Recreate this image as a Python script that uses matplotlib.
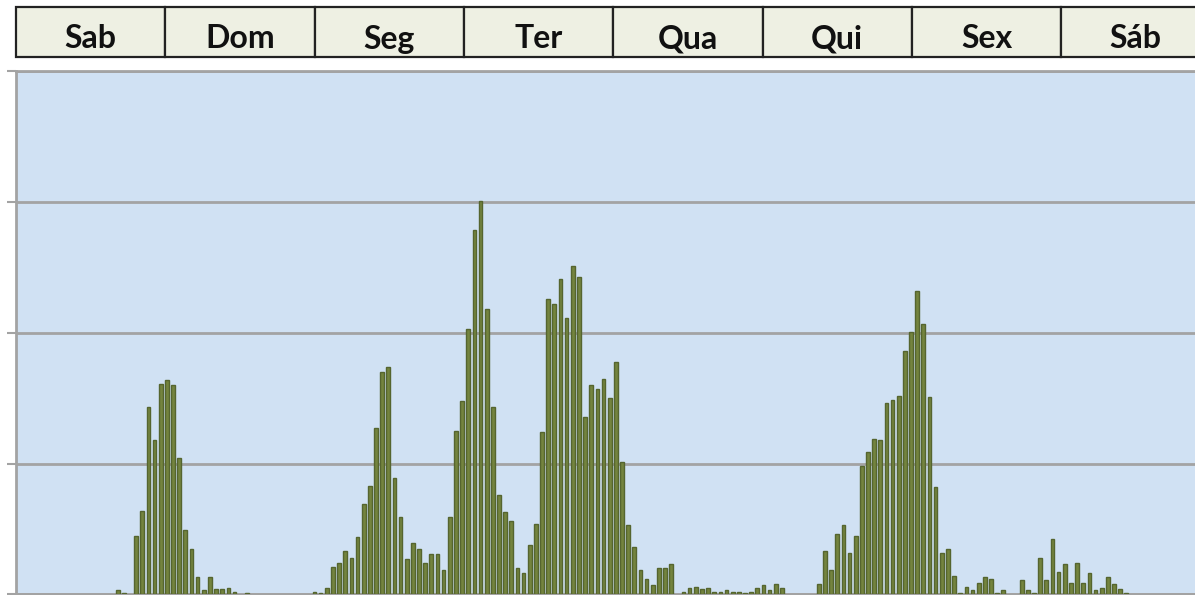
import numpy as np
import matplotlib.pyplot as plt
from matplotlib.patches import Rectangle

# hourly values, one list of 24 per day
days = ["Sab", "Dom", "Seg", "Ter", "Qua", "Qui", "Sex", "Sáb"]
sab = [0, 0, 0, 0, 0, 0, 0, 0, 0, 0, 0, 0, 0, 0, 0, 0,
       0.03, 0.01, 0, 0.45, 0.64, 1.43, 1.18, 1.61]
dom = [1.64, 1.60, 1.04, 0.49, 0.35, 0.13, 0.03, 0.13, 0.04, 0.04, 0.05, 0.02,
       0, 0.01, 0, 0, 0, 0, 0, 0, 0, 0, 0, 0]
seg = [0.02, 0.01, 0.05, 0.21, 0.24, 0.33, 0.28, 0.44, 0.69, 0.83, 1.27, 1.70,
       1.74, 0.89, 0.59, 0.27, 0.39, 0.35, 0.24, 0.31, 0.31, 0.19, 0.59, 1.25]
ter = [1.48, 2.03, 2.79, 3.01, 2.18, 1.43, 0.76, 0.63, 0.56, 0.20, 0.16, 0.38,
       0.54, 1.24, 2.26, 2.22, 2.41, 2.11, 2.51, 2.43, 1.36, 1.60, 1.57, 1.65]
qua = [1.50, 1.78, 1.01, 0.53, 0.36, 0.19, 0.12, 0.07, 0.20, 0.20, 0.23, 0,
       0.02, 0.05, 0.06, 0.04, 0.05, 0.02, 0.02, 0.03, 0.02, 0.02, 0.01, 0.02]
qui = [0.05, 0.07, 0.03, 0.08, 0.05, 0, 0, 0, 0, 0, 0.08, 0.33,
       0.19, 0.46, 0.53, 0.32, 0.45, 0.98, 1.09, 1.19, 1.18, 1.46, 1.49, 1.52]
sex = [1.86, 2.01, 2.32, 2.07, 1.51, 0.82, 0.32, 0.35, 0.14, 0.01, 0.06, 0.03,
       0.09, 0.13, 0.12, 0.01, 0.03, 0, 0, 0.11, 0.03, 0.01, 0.28, 0.11]
sab2 = [0.42, 0.17, 0.23, 0.09, 0.24, 0.09, 0.16, 0.03, 0.05, 0.13, 0.08, 0.04,
        0.01, 0, 0, 0, 0, 0, 0, 0, 0, 0, 0, 0]

values = np.array(sab + dom + seg + ter + qua + qui + sex + sab2)
hours = np.arange(len(values))

W, H = 1195, 595
fig = plt.figure(figsize=(W / 100, H / 100), dpi=100)
fig.patch.set_facecolor("white")

# header strip with the day names
hx0, hcell = 16, 149.3
hdr = fig.add_axes([hx0 / W, (H - 57) / H, 8 * hcell / W, 50 / H])
hdr.set_xlim(0, 8)
hdr.set_ylim(0, 1)
hdr.axis("off")
for k, name in enumerate(days):
    hdr.add_patch(Rectangle((k, 0), 1, 1, facecolor="#EEF0E3", edgecolor="#222222",
                            linewidth=1.6, clip_on=False))
    hdr.text(k + 0.5, 0.36, name, ha="center", va="center", fontsize=23,
             fontweight="bold", family=["Lato", "DejaVu Sans"], color="#111111")

# bar chart
x0, step = 16.2, 6.15
ax = fig.add_axes([x0 / W, 0.6 / H, 192 * step / W, (594.4 - 71.3) / H])
ax.set_facecolor("#D0E1F3")
ax.set_xlim(-0.5, len(values) - 0.5)
ax.set_ylim(0, 4)
ax.set_axisbelow(True)
ax.yaxis.grid(True, color="#A3A3A3", linewidth=2)

mask = values > 0
ax.bar(hours[mask], values[mask], width=0.6, color="#74843E",
       edgecolor="#55652F", linewidth=1.0, zorder=3)

ax.set_yticks([0, 1, 2, 3, 4])
ax.set_yticklabels([])
ax.set_xticks([])
ax.tick_params(axis="y", direction="out", length=6.5, width=1.5, color="#A3A3A3")
for side in ["left", "top", "bottom"]:
    ax.spines[side].set_color("#A3A3A3")
    ax.spines[side].set_linewidth(2)
ax.spines["right"].set_visible(False)

fig.savefig("out.png", dpi=100)
